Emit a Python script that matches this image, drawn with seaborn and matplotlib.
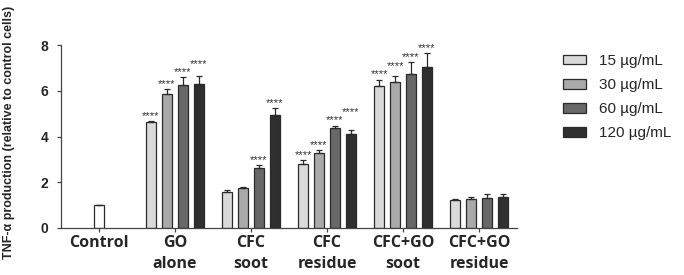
import matplotlib
matplotlib.use("Agg")
import matplotlib.pyplot as plt
import pandas as pd
import numpy as np
import seaborn as sns

### Dados
grupos = ["GO\nalone", "CFC\nsoot", "CFC\nresidue", "CFC+GO\nsoot", "CFC+GO\nresidue"]
concentracoes = ["15 µg/mL", "30 µg/mL", "60 µg/mL", "120 µg/mL"]
valores = [[4.63, 5.85, 6.27, 6.32],
           [1.57, 1.75, 2.62, 4.95],
           [2.78, 3.26, 4.38, 4.09],
           [6.20, 6.38, 6.74, 7.03],
           [1.21, 1.28, 1.31, 1.37]]
erros = [[0.05, 0.23, 0.33, 0.32],
         [0.08, 0.05, 0.12, 0.29],
         [0.19, 0.14, 0.10, 0.18],
         [0.29, 0.29, 0.51, 0.63],
         [0.07, 0.09, 0.17, 0.10]]
signif = [["****"] * 4,
          ["", "", "****", "****"],
          ["****"] * 4,
          ["****"] * 4,
          ["", "", "", ""]]
controle_valor = 0.99
controle_erro = 0.02
cores = ["#dadada", "#a9a9a9", "#686868", "#2f2f2f"]

### Montagem do dataset
linhas = []
for g, grupo in enumerate(grupos):
    for c, conc in enumerate(concentracoes):
        linhas.append({"Grupo": grupo, "Conc": conc, "Valor": valores[g][c]})
dataset = pd.DataFrame(linhas)
ordem = ["Control"] + grupos

sns.set_style("ticks")
plt.rcParams["font.family"] = ["Liberation Sans", "DejaVu Sans"]

fig = plt.figure(figsize = (6.84, 2.75), dpi = 100)
ax = fig.add_axes([0.089, 0.171, 0.667, 0.665])
sns.barplot(data = dataset, x = "Grupo", y = "Valor", hue = "Conc", order = ordem,
            hue_order = concentracoes, palette = cores, width = 0.84, gap = 0.38,
            edgecolor = "#2a2a2a", linewidth = 0.9, errorbar = None, ax = ax)
# barra do controle
ax.bar(0, controle_valor, width = 0.13, color = "white", edgecolor = "#2a2a2a", linewidth = 0.9)
ax.errorbar(0, controle_valor, yerr = [[0], [controle_erro]], fmt = "none",
            ecolor = "#2a2a2a", elinewidth = 0.9, capsize = 2.5, capthick = 0.9)

# barras de erro e asteriscos (ordenando as barras pela posição)
barras = sorted([p for p in ax.patches if p.get_height() > 0 and p.get_x() > 0.3],
                key = lambda p: p.get_x())
y_ant = -1
for i, p in enumerate(barras):
    g, c = divmod(i, 4)
    if c == 0:
        y_ant = -1
    xc = p.get_x() + p.get_width() / 2
    topo = valores[g][c]
    ax.errorbar(xc, topo, yerr = [[0], [erros[g][c]]], fmt = "none",
                ecolor = "#2a2a2a", elinewidth = 0.9, capsize = 2.5, capthick = 0.9)
    if signif[g][c]:
        # escalonar para não sobrepor o rótulo vizinho
        y_ast = max(topo + erros[g][c] + 0.33, y_ant + 0.36)
        y_ant = y_ast
        ax.text(xc, y_ast - 0.24, signif[g][c], ha = "center", va = "baseline",
                fontsize = 8, color = "#333333")

ax.set_xlim(-0.5, 5.5)
ax.set_ylim(0, 8)
ax.set_yticks([0, 2, 4, 6, 8])
ax.set_yticklabels(["0", "2", "4", "6", "8"], fontsize = 10, fontweight = "bold")
ax.set_xticks(range(len(ordem)))
ax.set_xticklabels(ordem, fontsize = 11.5, fontweight = "bold", family = ["Open Sans", "DejaVu Sans"],
                   linespacing = 1.45)
ax.set_xlabel("")
ax.set_ylabel("")
fig.text(0.013, 0.52, "TNF-α production (relative to control cells)", rotation = 90,
         ha = "center", va = "center", fontsize = 9, fontweight = "bold")
ax.tick_params(axis = "both", length = 3, width = 0.9, color = "#444444", pad = 2)
ax.tick_params(axis = "y", pad = 6)
for lado in ["left", "bottom"]:
    ax.spines[lado].set_color("#444444")
    ax.spines[lado].set_linewidth(0.9)
sns.despine(ax = ax)

handles, labels = ax.get_legend_handles_labels()
ax.get_legend().remove()
leg = fig.legend(handles, labels, loc = "upper left", bbox_to_anchor = (563 / 684, 1 - 54 / 275),
                 frameon = False, fontsize = 11, handlelength = 1.5, handleheight = 0.6,
                 labelspacing = 0.66, handletextpad = 0.85, borderpad = 0, borderaxespad = 0)
for h in leg.legend_handles:
    h.set_edgecolor("#2a2a2a")
    h.set_linewidth(0.9)

fig.savefig("out.png", dpi = 100)
